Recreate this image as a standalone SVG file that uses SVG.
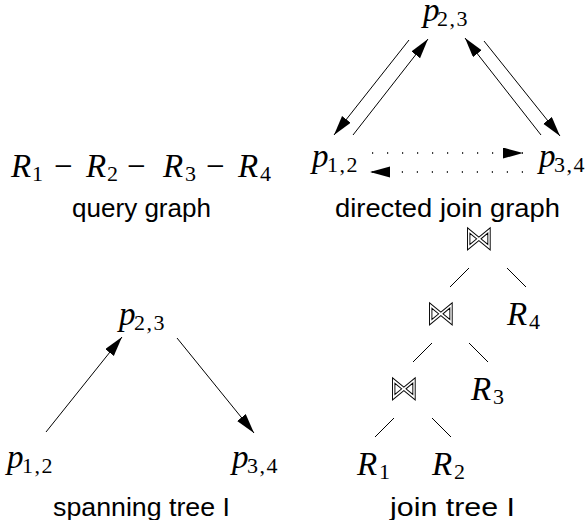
<svg xmlns="http://www.w3.org/2000/svg" width="586" height="520" viewBox="0 0 586 520">
<style>
.m{font-family:"Liberation Serif",serif;font-style:italic;font-size:33px;fill:#000}
.s{font-family:"Liberation Serif",serif;font-style:normal;font-size:22px;fill:#000}
.sc{font-family:"Liberation Serif",serif;font-style:normal;font-size:22px;letter-spacing:1.5px;fill:#000}
.op{font-family:"Liberation Serif",serif;font-style:normal;font-size:33px;fill:#000}
.lbl{font-family:"Liberation Sans",Arial,sans-serif;font-size:26px;fill:#000}
.bt{font-family:"DejaVu Sans",sans-serif;font-size:24px;fill:none;stroke:#000;stroke-width:0.8;text-anchor:middle}
.e{stroke:#000;stroke-width:1;fill:none}
.a{stroke:#000;stroke-width:1;fill:none;marker-end:url(#ah)}
.d{stroke:#000;stroke-width:1.4;fill:none;stroke-dasharray:1.2 13.8;marker-end:url(#ah)}
</style>
<defs>
<marker id="ah" markerUnits="userSpaceOnUse" markerWidth="21" markerHeight="12" refX="20" refY="5.5" orient="auto" viewBox="0 0 21 12">
<path d="M0,0 L20,5.5 L0,11 z" fill="#000"/>
</marker>
<filter id="gray" x="-20%" y="-20%" width="140%" height="140%">
<feColorMatrix type="saturate" values="0"/>
</filter>
</defs>

<g id="query-graph">
<text class="m" y="177"><tspan x="11">R</tspan><tspan class="s" x="32" y="181">1</tspan><tspan class="op" x="54" y="177">−</tspan><tspan x="86" y="177">R</tspan><tspan class="s" x="107" y="181">2</tspan><tspan class="op" x="127" y="177">−</tspan><tspan x="163" y="177">R</tspan><tspan class="s" x="185" y="181">3</tspan><tspan class="op" x="206" y="177">−</tspan><tspan x="238" y="177">R</tspan><tspan class="s" x="260" y="181">4</tspan></text>
<text class="lbl" x="72" y="217" textLength="139" lengthAdjust="spacingAndGlyphs">query graph</text>
</g>

<g id="djg-p23"><text class="m" x="423" y="21">p<tspan class="sc" x="437" y="26">2,3</tspan></text></g>
<g id="djg-p12"><text class="m" x="312" y="167">p<tspan class="sc" x="327" y="172">1,2</tspan></text></g>
<g id="djg-p34"><text class="m" x="539" y="167">p<tspan class="sc" x="554" y="172">3,4</tspan></text></g>
<g id="djg-label"><text class="lbl" x="335" y="217" textLength="225" lengthAdjust="spacingAndGlyphs">directed join graph</text></g>

<g id="st-p23"><text class="m" x="119" y="325">p<tspan class="sc" x="134" y="330">2,3</tspan></text></g>
<g id="st-p12"><text class="m" x="7" y="468">p<tspan class="sc" x="22" y="473">1,2</tspan></text></g>
<g id="st-p34"><text class="m" x="232" y="468">p<tspan class="sc" x="247" y="473">3,4</tspan></text></g>
<g id="st-label"><text class="lbl" x="53" y="516" textLength="177" lengthAdjust="spacingAndGlyphs">spanning tree I</text></g>

<g id="jt-join1" filter="url(#gray)"><text class="bt" transform="translate(479,249) scale(1.2,1.35)" x="0" y="0">⋈</text></g>
<g id="jt-join2" filter="url(#gray)"><text class="bt" transform="translate(441,324) scale(1.2,1.35)" x="0" y="0">⋈</text></g>
<g id="jt-join3" filter="url(#gray)"><text class="bt" transform="translate(404,399) scale(1.2,1.35)" x="0" y="0">⋈</text></g>
<g id="jt-R4"><text class="m" x="507" y="325">R<tspan class="s" x="529" y="329">4</tspan></text></g>
<g id="jt-R3"><text class="m" x="471" y="400">R<tspan class="s" x="493" y="404">3</tspan></text></g>
<g id="jt-R1"><text class="m" x="357" y="475">R<tspan class="s" x="379" y="479">1</tspan></text></g>
<g id="jt-R2"><text class="m" x="432" y="475">R<tspan class="s" x="454" y="479">2</tspan></text></g>
<g id="jt-label"><text class="lbl" x="390" y="516" textLength="125" lengthAdjust="spacingAndGlyphs">join tree I</text></g>

<g id="connectors">
<line class="a" x1="409" y1="40" x2="334" y2="135"/>
<line class="a" x1="353" y1="135" x2="428" y2="39"/>
<line class="a" x1="541" y1="135" x2="465" y2="38"/>
<line class="a" x1="484" y1="41" x2="560" y2="136"/>
<line class="d" x1="372" y1="153" x2="523" y2="153"/>
<line class="d" x1="523" y1="172" x2="370" y2="172"/>
<line class="a" x1="46" y1="432" x2="122" y2="337"/>
<line class="a" x1="177" y1="338" x2="254" y2="433"/>
<line class="e" x1="469" y1="268" x2="450" y2="287"/>
<line class="e" x1="507" y1="268" x2="526" y2="287"/>
<line class="e" x1="432" y1="343" x2="413" y2="362"/>
<line class="e" x1="469" y1="343" x2="488" y2="362"/>
<line class="e" x1="394" y1="418" x2="375" y2="437"/>
<line class="e" x1="432" y1="418" x2="451" y2="437"/>
</g>
</svg>
